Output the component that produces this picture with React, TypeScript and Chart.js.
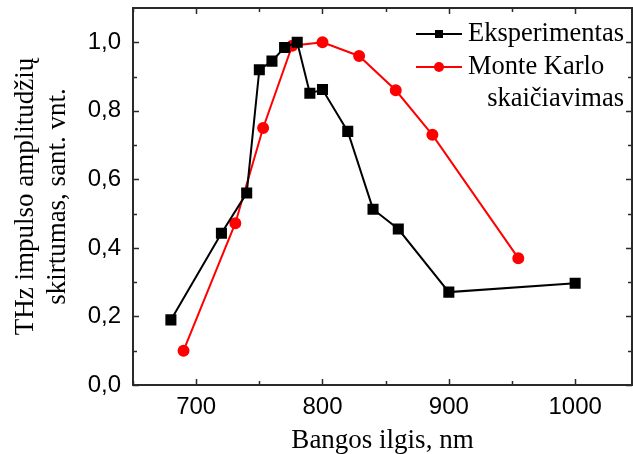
import React, { useEffect, useRef } from 'react';
import { Chart, registerables } from 'chart.js';

Chart.register(...registerables);

// ---- data ----
const expWavelength = [680, 720, 740, 750, 760, 770, 780, 790, 800, 820, 840, 860, 900, 1000];
const expValues = [0.19, 0.443, 0.56, 0.92, 0.945, 0.985, 1.0, 0.851, 0.862, 0.74, 0.513, 0.455, 0.271, 0.297];
const mcWavelength = [690, 731, 753, 776, 800, 829, 858, 887, 955];
const mcValues = [0.1, 0.472, 0.75, 0.99, 1.0, 0.96, 0.86, 0.73, 0.37];
const xTicks = [700, 800, 900, 1000];
const xMinorTicks = [650, 750, 850, 950];
const yTicks = [0, 0.2, 0.4, 0.6, 0.8, 1.0];
const yMinorTicks = [0.1, 0.3, 0.5, 0.7, 0.9];
const seriesNames = ['Eksperimentas', 'Monte Karlo', 'skaičiavimas'];
const xTitle = 'Bangos ilgis, nm';
const yTitle = ['THz impulso amplitudžių', 'skirtumas, sant. vnt.'];

const SERIF = '"Liberation Serif", "Times New Roman", serif';
const SANS = '"Liberation Sans", Arial, sans-serif';

const framePlugin = {
  id: 'frameTicks',
  afterDraw(chart: any) {
    const { ctx, chartArea: a, scales } = chart;
    const xs = scales.x;
    const ys = scales.y;
    ctx.save();
    ctx.strokeStyle = '#2a2a2a';
    ctx.lineWidth = 2;
    ctx.strokeRect(a.left, a.top, a.right - a.left, a.bottom - a.top);
    ctx.lineWidth = 1.5;
    const major = 6;
    const minor = 4;
    const drawX = (v: number, len: number) => {
      const px = Math.round(xs.getPixelForValue(v)) + 0.5;
      if (px < a.left || px > a.right) return;
      ctx.beginPath();
      ctx.moveTo(px, a.bottom);
      ctx.lineTo(px, a.bottom - len);
      ctx.moveTo(px, a.top);
      ctx.lineTo(px, a.top + len);
      ctx.stroke();
    };
    const drawY = (v: number, len: number) => {
      const py = Math.round(ys.getPixelForValue(v)) + 0.5;
      ctx.beginPath();
      ctx.moveTo(a.left, py);
      ctx.lineTo(a.left + len, py);
      ctx.moveTo(a.right, py);
      ctx.lineTo(a.right - len, py);
      ctx.stroke();
    };
    xTicks.forEach((v) => drawX(v, major));
    xMinorTicks.forEach((v) => drawX(v, minor));
    yTicks.forEach((v) => drawY(v, major));
    yMinorTicks.forEach((v) => drawY(v, minor));

    // legend
    const ds = chart.data.datasets;
    ctx.font = `26.5px ${SERIF}`;
    ctx.textBaseline = 'middle';
    ctx.fillStyle = '#000';
    const lx0 = a.right - 216;
    const lx1 = a.right - 170;
    const tx = a.right - 164;
    const rows = [a.top + 26, a.top + 59];
    const textW = ctx.measureText(seriesNames[0]).width;
    rows.forEach((ry, i) => {
      const d = ds[i];
      ctx.strokeStyle = d.borderColor;
      ctx.lineWidth = 2;
      ctx.beginPath();
      ctx.moveTo(lx0, ry);
      ctx.lineTo(lx1, ry);
      ctx.stroke();
      ctx.fillStyle = d.pointBackgroundColor;
      const cx = (lx0 + lx1) / 2;
      if (d.pointStyle === 'rect') {
        ctx.fillRect(cx - 4, ry - 4, 8, 8);
      } else {
        ctx.beginPath();
        ctx.arc(cx, ry, 5, 0, Math.PI * 2);
        ctx.fill();
      }
      ctx.fillStyle = '#000';
      ctx.textAlign = 'left';
      ctx.fillText(seriesNames[i], tx, ry);
    });
    ctx.textAlign = 'right';
    ctx.fillText(seriesNames[2], tx + textW, a.top + 91);
    ctx.restore();
  },
};

export default function App() {
  const ref = useRef<HTMLCanvasElement>(null);
  useEffect(() => {
    if (!ref.current) return;
    const chart = new Chart(ref.current, {
      type: 'line',
      data: {
        datasets: [
          {
            label: seriesNames[0],
            data: expWavelength.map((x, i) => ({ x, y: expValues[i] })),
            borderColor: '#000000',
            backgroundColor: '#000000',
            pointBackgroundColor: '#000000',
            pointBorderColor: '#000000',
            pointStyle: 'rect',
            pointRadius: 6.4,
            borderWidth: 2,
            tension: 0,
          },
          {
            label: seriesNames[1] + ' ' + seriesNames[2],
            data: mcWavelength.map((x, i) => ({ x, y: mcValues[i] })),
            borderColor: '#ff0000',
            backgroundColor: '#ff0000',
            pointBackgroundColor: '#ff0000',
            pointBorderColor: '#ff0000',
            pointStyle: 'circle',
            pointRadius: 5,
            borderWidth: 2,
            tension: 0,
          },
        ],
      },
      options: {
        animation: false,
        responsive: false,
        maintainAspectRatio: false,
        layout: { autoPadding: false, padding: { top: 8, right: 1, left: 0, bottom: 0 } },
        plugins: { legend: { display: false }, tooltip: { enabled: false } },
        scales: {
          x: {
            type: 'linear',
            min: 650,
            max: 1045,
            grid: { display: false, drawTicks: false },
            border: { display: false },
            afterBuildTicks: (s: any) => {
              s.ticks = xTicks.map((v) => ({ value: v }));
            },
            ticks: {
              color: '#000',
              font: { family: SANS, size: 24 },
              padding: 8,
              maxRotation: 0,
              callback: (v: any) => String(v),
            },
            title: {
              display: true,
              text: xTitle,
              color: '#000',
              font: { family: SERIF, size: 27, lineHeight: 1.0 },
              padding: { top: 0, bottom: 0 },
            },
            afterFit: (s: any) => {
              s.height = 69;
              s.paddingLeft = 0;
              s.paddingRight = 0;
            },
          },
          y: {
            type: 'linear',
            min: 0,
            max: 1.1,
            grid: { display: false, drawTicks: false },
            border: { display: false },
            afterBuildTicks: (s: any) => {
              s.ticks = yTicks.map((v) => ({ value: v }));
            },
            ticks: {
              color: '#000',
              font: { family: SANS, size: 24 },
              padding: 12,
              callback: (v: any) => Number(v).toFixed(1).replace('.', ','),
            },
            title: {
              display: true,
              text: yTitle,
              color: '#000',
              font: { family: SERIF, size: 27, lineHeight: 1.2 },
              padding: { top: 9.5, bottom: 0 },
            },
            afterFit: (s: any) => {
              s.width = 133;
              s.paddingTop = 0;
              s.paddingBottom = 0;
            },
          },
        },
      },
      plugins: [framePlugin],
    });
    return () => chart.destroy();
  }, []);
  return (
    <div style={{ position: 'fixed', left: 0, top: 0, width: 633, height: 454, background: '#fff' }}>
      <canvas ref={ref} width={633} height={454} style={{ width: 633, height: 454 }} />
    </div>
  );
}
